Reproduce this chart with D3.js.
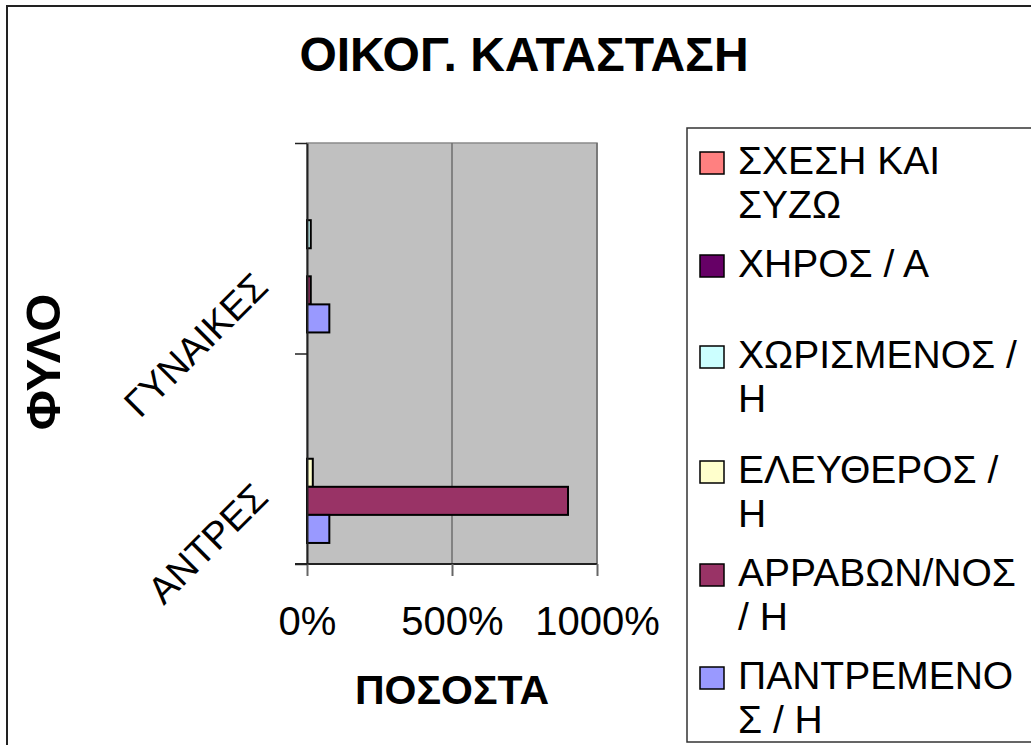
<!DOCTYPE html>
<html>
<head>
<meta charset="utf-8">
<script src="https://cdn.jsdelivr.net/npm/d3@7"></script>
<style>
  html, body { margin: 0; padding: 0; background: #fff; }
  svg { display: block; font-family: "Liberation Sans", Arial, sans-serif; }
</style>
</head>
<body>
<div id="chart"></div>
<script>
// categories (top to bottom) and series (top to bottom inside each group)
const categories = ['ΓΥΝΑΙΚΕΣ', 'ΑΝΤΡΕΣ']
const seriesKeys = ['ΣΧΕΣΗ ΚΑΙ ΣΥΖΩ', 'ΧΗΡΟΣ / Α', 'ΧΩΡΙΣΜΕΝΟΣ / Η', 'ΕΛΕΥΘΕΡΟΣ / Η', 'ΑΡΡΑΒΩΝ/ΝΟΣ / Η', 'ΠΑΝΤΡΕΜΕΝΟΣ / Η']
const legendLines = [['ΣΧΕΣΗ ΚΑΙ', 'ΣΥΖΩ'], ['ΧΗΡΟΣ / Α'], ['ΧΩΡΙΣΜΕΝΟΣ /', 'Η'], ['ΕΛΕΥΘΕΡΟΣ /', 'Η'], ['ΑΡΡΑΒΩΝ/ΝΟΣ', '/ Η'], ['ΠΑΝΤΡΕΜΕΝΟ', 'Σ / Η']]
const seriesColors = ['#ff8080', '#660066', '#ccffff', '#ffffcc', '#993366', '#9999ff']
// percent values, one array per category, in seriesKeys order
const valuesGynaikes = [0, 0, 13, 0, 13, 77]
const valuesAntres = [0, 0, 0, 20, 900, 77]
const xTicks = [0, 500, 1000]

const title = 'ΟΙΚΟΓ. ΚΑΤΑΣΤΑΣΗ'
const xTitle = 'ΠΟΣΟΣΤΑ'
const yTitle = 'ΦΥΛΟ'

const W = 1031, H = 745
const plot = { left: 307, right: 597, top: 143, bottom: 564 }

const rows = [valuesGynaikes, valuesAntres]
const data = []
categories.forEach((c, ci) => {
  seriesKeys.forEach((s, si) => data.push({ cat: c, key: s, value: rows[ci][si], color: seriesColors[si] }))
})

let svg = d3.select('#chart').append('svg')
  .attr('width', W).attr('height', H)

// outer chart border (runs past the window on right / bottom)
svg.append('rect')
  .attr('x', 7).attr('y', 6)
  .attr('width', 1100).attr('height', 800)
  .attr('fill', '#fff').attr('stroke', '#222').attr('stroke-width', 2)

let x = d3.scaleLinear().domain([0, 1000]).range([plot.left, plot.right])
let y = d3.scaleBand().domain(categories).range([plot.top, plot.bottom])
let ys = d3.scaleBand().domain(seriesKeys).range([0, y.bandwidth()]).paddingInner(0).paddingOuter(0.75)

// plot area
svg.append('rect')
  .attr('x', plot.left).attr('y', plot.top)
  .attr('width', plot.right - plot.left).attr('height', plot.bottom - plot.top)
  .attr('fill', '#c0c0c0').attr('stroke', '#8a8a8a').attr('stroke-width', 1.5)

svg.append('g').selectAll('line')
  .data(xTicks.slice(1))
  .join('line')
  .attr('x1', d => x(d)).attr('x2', d => x(d))
  .attr('y1', plot.top).attr('y2', plot.bottom)
  .attr('stroke', '#6e6e6e').attr('stroke-width', 1.5)

// bars
svg.append('g').selectAll('rect')
  .data(data.filter(d => d.value > 0))
  .join('rect')
  .attr('x', x(0))
  .attr('y', d => y(d.cat) + ys(d.key))
  .attr('width', d => x(d.value) - x(0))
  .attr('height', ys.bandwidth())
  .attr('fill', d => d.color)
  .attr('stroke', '#000').attr('stroke-width', 2)

// x axis
let xAxis = svg.append('g')
  .attr('transform', `translate(0,${plot.bottom})`)
  .call(d3.axisBottom(x).tickValues(xTicks).tickSize(12).tickSizeOuter(0).tickFormat(d => d + '%'))
xAxis.select('.domain').attr('stroke', '#222').attr('stroke-width', 2).attr('d', `M${plot.left - 12},0H${plot.right}`)
xAxis.selectAll('.tick line').attr('stroke', '#666').attr('stroke-width', 2)
xAxis.selectAll('.tick text')
  .attr('y', 71).attr('dy', 0)
  .attr('font-size', 40).attr('fill', '#000')
  .attr('font-family', '"Liberation Sans", Arial, sans-serif')

// y axis: ticks sit on category boundaries
let yEdges = d3.scaleLinear().domain([0, categories.length]).range([plot.top, plot.bottom])
let yAxis = svg.append('g')
  .attr('transform', `translate(${plot.left},0)`)
  .call(d3.axisLeft(yEdges).tickValues(d3.range(categories.length + 1)).tickSize(12).tickSizeOuter(0).tickFormat(''))
yAxis.select('.domain').attr('stroke', '#222').attr('stroke-width', 2)
yAxis.selectAll('.tick line').attr('stroke', '#222').attr('stroke-width', 1.5)

// category labels, rotated
svg.append('g').selectAll('text')
  .data(categories)
  .join('text')
  .attr('transform', d => `translate(${plot.left - 37},${y(d) + y.bandwidth() / 2 + 41}) rotate(-45)`)
  .attr('text-anchor', 'end')
  .attr('font-size', 38)
  .text(d => d)

// titles
svg.append('text')
  .attr('x', 524).attr('y', 71)
  .attr('text-anchor', 'middle')
  .attr('font-size', 48).attr('font-weight', 'bold')
  .text(title)

svg.append('text')
  .attr('x', (plot.left + plot.right) / 2).attr('y', 704)
  .attr('text-anchor', 'middle')
  .attr('font-size', 41).attr('font-weight', 'bold')
  .text(xTitle)

svg.append('text')
  .attr('transform', `translate(60,362) rotate(-90)`)
  .attr('text-anchor', 'middle')
  .attr('font-size', 49).attr('font-weight', 'bold')
  .text(yTitle)

// legend
let legend = svg.append('g')
legend.append('rect')
  .attr('x', 687).attr('y', 128)
  .attr('width', 400).attr('height', 614)
  .attr('fill', '#fff').attr('stroke', '#333').attr('stroke-width', 1.5)

let items = legend.selectAll('g.item')
  .data(seriesKeys)
  .join('g')
  .attr('class', 'item')
  .attr('transform', (d, i) => `translate(700,${174 + i * 103 - (i === 2 ? 12 : 0)})`)

items.append('rect')
  .attr('x', 0).attr('y', -22)
  .attr('width', 24).attr('height', 22)
  .attr('fill', (d, i) => seriesColors[i])
  .attr('stroke', '#000').attr('stroke-width', 1.5)

items.append('text')
  .attr('x', 38).attr('y', 0)
  .attr('font-size', 39)
  .selectAll('tspan')
  .data((d, i) => legendLines[i])
  .join('tspan')
  .attr('x', 38)
  .attr('dy', (d, j) => j === 0 ? 0 : 44)
  .text(d => d)
</script>
</body>
</html>
